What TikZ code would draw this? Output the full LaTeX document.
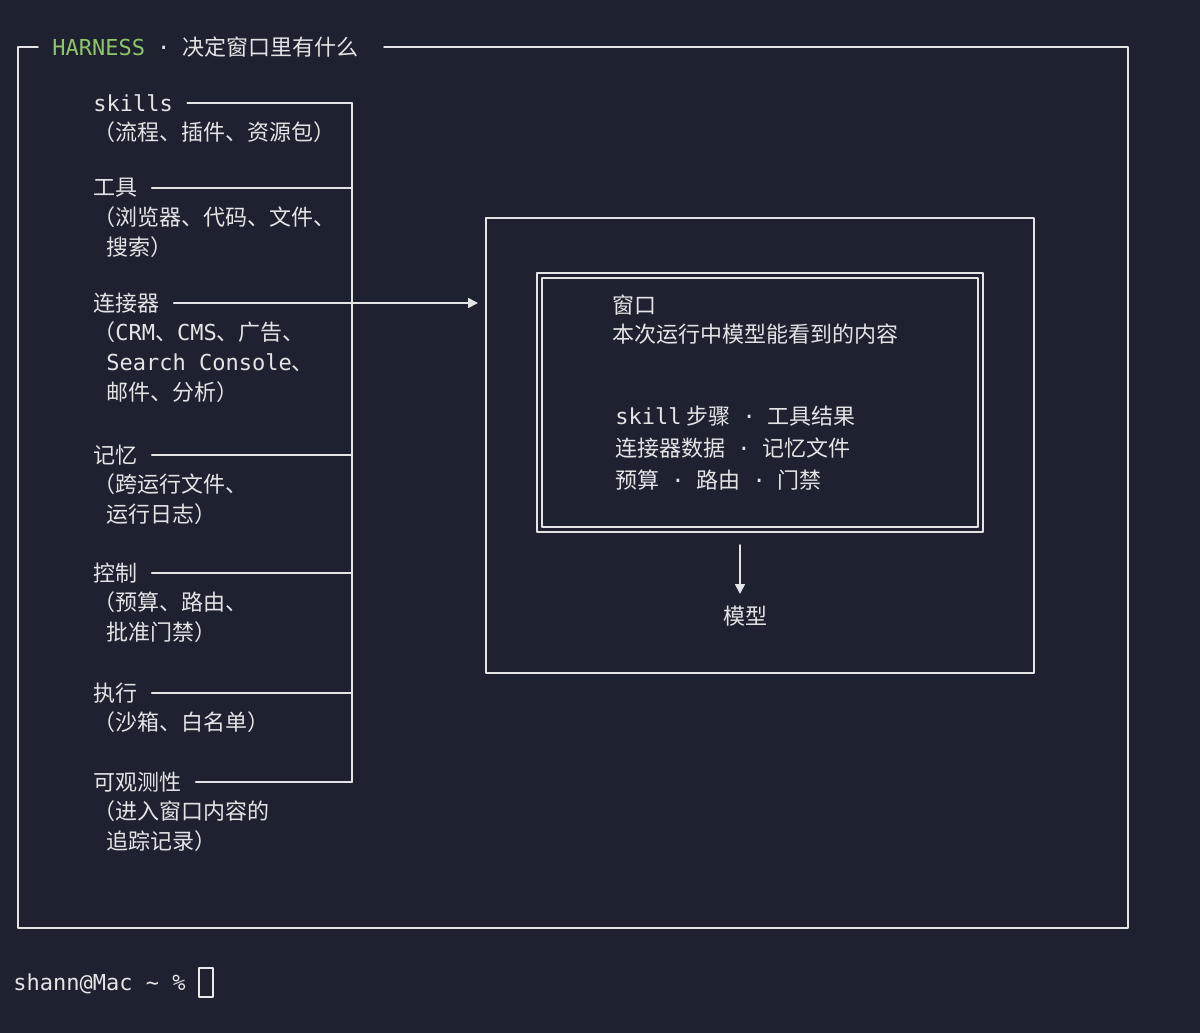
\documentclass[tikz,border=0pt]{standalone}
\usepackage{fontspec}
\setmainfont{Noto Sans CJK SC}
\setmonofont{DejaVu Sans Mono}
\usetikzlibrary{arrows.meta}
\definecolor{termbg}{HTML}{1E2230}
\definecolor{termfg}{HTML}{E2E4E6}
\definecolor{termgreen}{HTML}{8FC46A}
\newcommand{\en}[1]{{\ttfamily #1}}
\newcommand{\ind}{\hspace*{6.5pt}}
\newcommand{\sep}{\hspace*{6pt}\en{·}\hspace*{6pt}}
\begin{document}
\begin{tikzpicture}[x=0.5pt,y=-0.5pt,line join=round,line cap=round,font=\fontsize{11}{15}\selectfont,>={Triangle[length=5pt,width=5pt]},
  txt/.style={text=termfg,inner sep=0pt,align=left},
  rule/.style={draw=termfg,line width=0.8pt}]
\fill[termbg] (0,0) rectangle (1200,1033);
\useasboundingbox (0,0) rectangle (1200,1033);
% frame
\draw[rule] (384,47) -- (1128,47) -- (1128,928) -- (18,928) -- (18,47) -- (38,47);
\node[txt,anchor=west] (title) at (52,47) {\en{\textcolor{termgreen}{HARNESS}}\sep 决定窗口里有什么};
% bus
\coordinate (bustop) at (352,103);
\coordinate (busbot) at (352,782);
\draw[rule] (bustop) -- (busbot);
\foreach \n/\y/\t/\d in {skills/103/\en{skills}/（流程、插件、资源包）,
  tools/188/工具/{（浏览器、代码、文件、\\\ind 搜索）},
  conn/303/连接器/{（\en{CRM}、\en{CMS}、广告、\\\ind\en{Search Console}、\\\ind 邮件、分析）},
  mem/455/记忆/{（跨运行文件、\\\ind 运行日志）},
  ctrl/573/控制/{（预算、路由、\\\ind 批准门禁）},
  exec/693/执行/{（沙箱、白名单）},
  obs/782/可观测性/{（进入窗口内容的\\\ind 追踪记录）}}{
  \node[txt,anchor=west] (\n) at (93,\y) {\t};
  \node[txt,anchor=north west] (\n d) at (93,\y+18) {\d};
  \draw[rule] ([xshift=7pt]\n.east) -- (352,\y);
}
\coordinate (tap) at (352,303);
% window
\draw[rule] (486,218) rectangle (1034,673);
\draw[rule] (537,273) rectangle (983,532);
\draw[rule] (542,278) rectangle (978,527);
\coordinate (entry) at (478,303);
\draw[rule,->] (tap) -- (entry);
\node[txt,anchor=west] (win) at (612,305) {窗口};
\node[txt,anchor=west] (wind) at (612,334) {本次运行中模型能看到的内容};
\node[txt,anchor=west] (partsa) at (615,416) {\en{skill} 步骤\sep 工具结果};
\node[txt,anchor=west] (partsb) at (615,448) {连接器数据\sep 记忆文件};
\node[txt,anchor=west] (partsc) at (615,480) {预算\sep 路由\sep 门禁};
\coordinate (down) at (740,545);
\node[txt] (model) at (745,616) {模型};
\draw[rule,->] (down) -- (740,594);
% prompt
\node[txt,anchor=west] (prompt) at (13,984) {\en{shann@Mac \textasciitilde{} \%}};
\draw[draw=termfg!80,line width=0.8pt] (199,968) rectangle (213,997);
\end{tikzpicture}
\end{document}
